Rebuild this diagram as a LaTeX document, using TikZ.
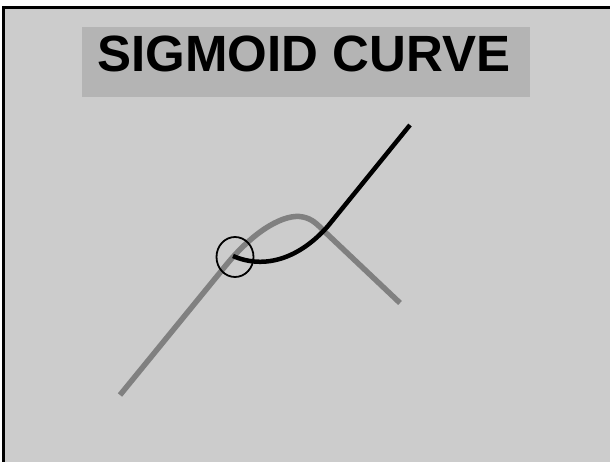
\documentclass[tikz,border=0pt]{standalone}
\usepackage{fontspec}
\setmainfont{Liberation Sans}
\usetikzlibrary{shapes.geometric}
\definecolor{bggray}{RGB}{204,204,204}
\definecolor{titlegray}{RGB}{180,180,180}
\definecolor{curvegray}{RGB}{128,128,128}
\tikzset{
  titlebox/.style={fill=titlegray, inner sep=0pt, minimum width=448pt, minimum height=70pt},
  titletext/.style={inner sep=0pt, font=\fontsize{51}{51}\selectfont\bfseries, text=black},
  graycurve/.style={draw=curvegray, line width=5.5pt},
  blackcurve/.style={draw=black, line width=4.5pt},
  ring/.style={draw=black, line width=1.8pt, ellipse, minimum width=37pt, minimum height=40pt, inner sep=0pt}
}
\begin{document}
\begin{tikzpicture}[x=1pt,y=-1pt]
\useasboundingbox (0,0) rectangle (610,462);
\fill[white] (0,0) rectangle (610,462);
\fill[bggray] (2,6) rectangle (610,462);
\fill[black] (2,6) rectangle (610,9);
\fill[black] (2,6) rectangle (5,462);
\node[titlebox] (titlebg) at (306,62) {};
\node[titletext] (title) at (304,53.5) {SIGMOID CURVE};
\draw[graycurve] (120,395) -- (227,264) .. controls (255,230) and (285,213) .. (303,217) .. controls (312,219) and (316,223) .. (325,232) -- (400,303);
\draw[blackcurve] (233,256) .. controls (265,270) and (300,258) .. (328,226) -- (410,125);
\node[ring] (circ) at (235,257) {};
\end{tikzpicture}
\end{document}
